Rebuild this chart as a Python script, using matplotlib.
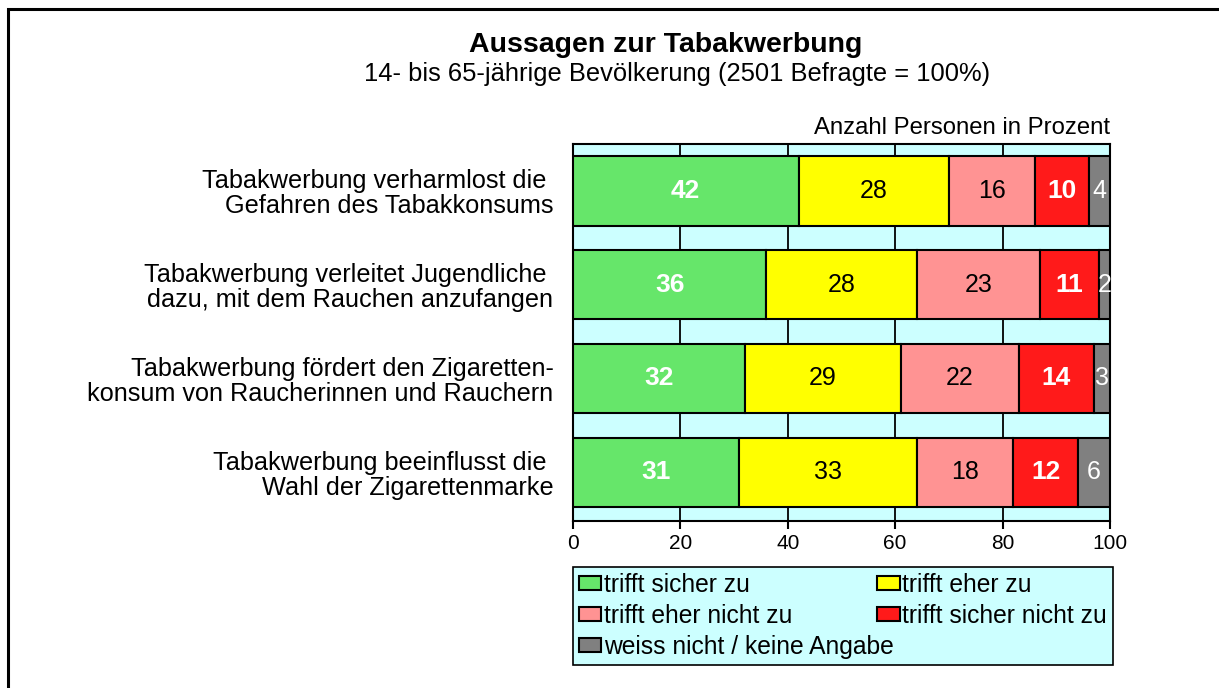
import numpy as np
import matplotlib.pyplot as plt
from matplotlib.patches import Rectangle, Patch

plt.rcParams['font.family'] = ['Liberation Sans', 'DejaVu Sans']

# Daten
categories = ['Tabakwerbung verharmlost die \nGefahren des Tabakkonsums',
              'Tabakwerbung verleitet Jugendliche \ndazu, mit dem Rauchen anzufangen',
              'Tabakwerbung fördert den Zigaretten-\nkonsum von Raucherinnen und Rauchern',
              'Tabakwerbung beeinflusst die \nWahl der Zigarettenmarke']
series_names = ['trifft sicher zu', 'trifft eher zu', 'trifft eher nicht zu',
                'trifft sicher nicht zu', 'weiss nicht / keine Angabe']
sicher_zu = [42, 36, 32, 31]
eher_zu = [28, 28, 29, 33]
eher_nicht = [16, 23, 22, 18]
sicher_nicht = [10, 11, 14, 12]
weiss_nicht = [4, 2, 3, 6]
xticks = [0, 20, 40, 60, 80, 100]

colors = ['#66E66A', '#FFFF00', '#FF9393', '#FF1A1A', '#808080']
txt_colors = ['white', 'black', 'black', 'white', 'white']
txt_weight = ['bold', 'normal', 'normal', 'bold', 'normal']
txt_size = [19, 18, 18, 19, 18]
bg = '#CCFFFF'

fig = plt.figure(figsize=(12.19, 6.88), dpi=100)
ax = fig.add_axes([0.470, 0.2427, 0.4406, 0.548])
ax.set_facecolor(bg)

data = [sicher_zu, eher_zu, eher_nicht, sicher_nicht, weiss_nicht]
y = np.arange(len(categories))
left = np.zeros(len(categories))
handles = []
for i, vals in enumerate(data):
    vals = np.array(vals)
    ax.barh(y, vals, left=left, height=0.74, color=colors[i], edgecolor='black',
            linewidth=1.5, zorder=3)
    for j, v in enumerate(vals):
        ax.text(left[j] + v / 2, y[j], str(v), ha='center', va='center',
                fontsize=txt_size[i], color=txt_colors[i], fontweight=txt_weight[i], zorder=4)
    left += vals
    handles.append(Patch(facecolor=colors[i], edgecolor='black', linewidth=1.5,
                         label=series_names[i]))

# senkrechte Gitterlinien
for g in xticks[1:-1]:
    ax.axvline(g, color='black', lw=1.3, zorder=1)

ax.set_xlim(0, 100)
ax.set_ylim(3.52, -0.5)
ax.set_xticks(xticks)
ax.set_yticks(y)
ax.set_yticklabels(categories, fontsize=18.2, linespacing=1.05)
ax.tick_params(axis='y', length=0, pad=14)
ax.tick_params(axis='x', direction='out', length=6, width=1.5, labelsize=15, pad=3)
for s in ax.spines.values():
    s.set_linewidth(1.5)

ax.text(1.0, 1.012, 'Anzahl Personen in Prozent', transform=ax.transAxes,
        ha='right', va='bottom', fontsize=17.2)

fig.text(0.5465, 0.934, 'Aussagen zur Tabakwerbung', ha='center', va='center',
         fontsize=20.5, fontweight='bold')
fig.text(0.5555, 0.893, '14- bis 65-jährige Bevölkerung (2501 Befragte = 100%)',
         ha='center', va='center', fontsize=18.4)

# Legende (zeilenweise sortiert)
order = [0, 2, 4, 1, 3]
leg = fig.legend([handles[k] for k in order], [series_names[k] for k in order],
                 ncol=2, loc='upper left', bbox_to_anchor=(0.470, 0.0363, 0.443, 0.1396),
                 mode='expand', borderaxespad=0, fontsize=17.7, fancybox=False,
                 framealpha=1, facecolor=bg, edgecolor='black', handlelength=0.9,
                 handleheight=0.5, handletextpad=0.1, labelspacing=0.28,
                 borderpad=0.25, columnspacing=1.0)
leg.get_frame().set_linewidth(1.2)

# Rahmen um das ganze Bild
fig.patches.append(Rectangle((8 / 1219, -0.1), 1.2, 1.1 - 9 / 688, transform=fig.transFigure,
                             fill=False, edgecolor='black', lw=2.2))

fig.savefig('out.png', dpi=100)
